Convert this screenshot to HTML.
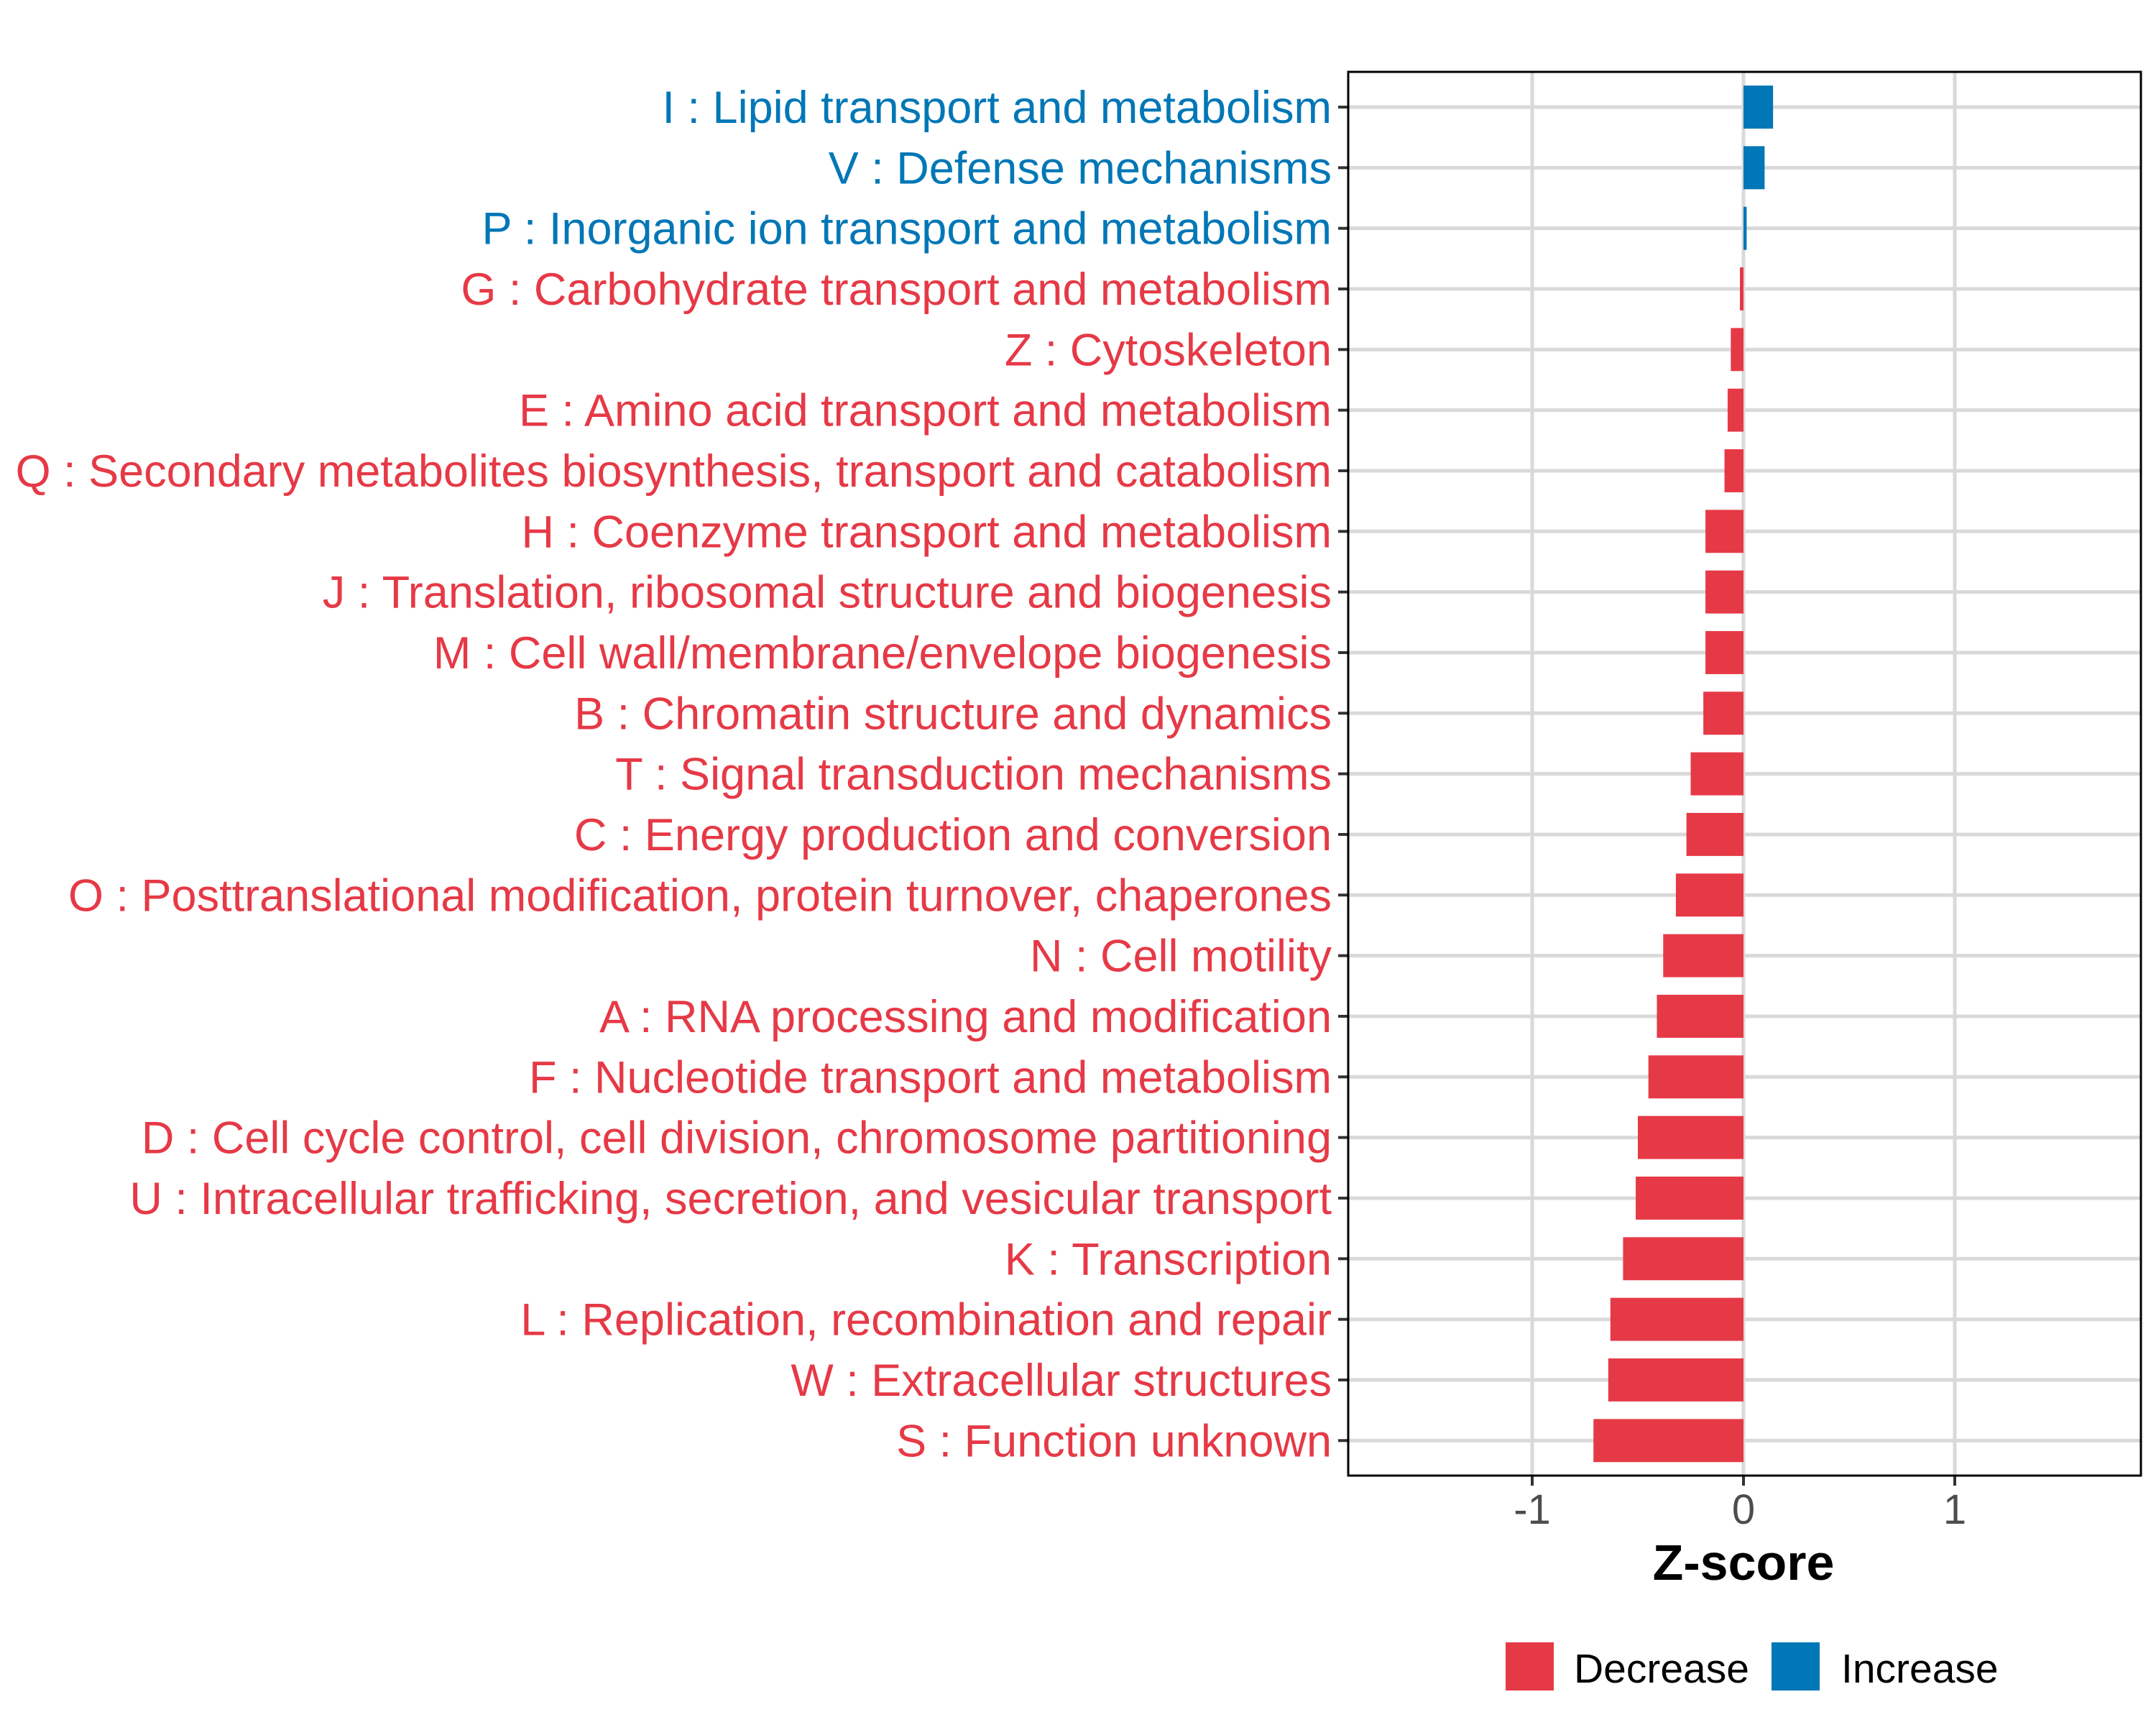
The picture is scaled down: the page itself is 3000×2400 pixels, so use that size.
<!DOCTYPE html>
<html><head><meta charset="utf-8"><style>
html,body{margin:0;padding:0;background:#fff;}
svg{display:block;font-family:"Liberation Sans",Arial,sans-serif;}
</style></head><body>
<svg id="chart" width="3000" height="2400" viewBox="0 0 3000 2400" xmlns="http://www.w3.org/2000/svg">
<rect x="0" y="0" width="3000" height="2400" fill="#fff"/>
<g id="grid"></g><g id="bars"></g><g id="ylabels"></g><g id="xaxis"></g>
<rect x="1876" y="100" width="1103" height="1953" fill="none" stroke="#000" stroke-width="3"/>
<text x="2426" y="2198" text-anchor="middle" font-size="70" font-weight="bold" fill="#000">Z-score</text>
<g>
<rect x="2095" y="2285" width="67" height="67" fill="#E63946"/>
<text x="2190" y="2341" font-size="57" fill="#000">Decrease</text>
<rect x="2465" y="2285" width="67" height="67" fill="#0077B6"/>
<text x="2562" y="2341" font-size="57" fill="#000">Increase</text>
</g>
</svg>
<script>
const categories = ["I : Lipid transport and metabolism","V : Defense mechanisms","P : Inorganic ion transport and metabolism","G : Carbohydrate transport and metabolism","Z : Cytoskeleton","E : Amino acid transport and metabolism","Q : Secondary metabolites biosynthesis, transport and catabolism","H : Coenzyme transport and metabolism","J : Translation, ribosomal structure and biogenesis","M : Cell wall/membrane/envelope biogenesis","B : Chromatin structure and dynamics","T : Signal transduction mechanisms","C : Energy production and conversion","O : Posttranslational modification, protein turnover, chaperones","N : Cell motility","A : RNA processing and modification","F : Nucleotide transport and metabolism","D : Cell cycle control, cell division, chromosome partitioning","U : Intracellular trafficking, secretion, and vesicular transport","K : Transcription","L : Replication, recombination and repair","W : Extracellular structures","S : Function unknown"];
const zscores = [0.14,0.10,0.015,-0.017,-0.06,-0.075,-0.09,-0.18,-0.18,-0.18,-0.19,-0.25,-0.27,-0.32,-0.38,-0.41,-0.45,-0.50,-0.51,-0.57,-0.63,-0.64,-0.71];
const xTicks = [-1,0,1];
const xTickLabels = ["-1","0","1"];

const NS="http://www.w3.org/2000/svg";
const X0=2426, UNIT=294, Y0=149, STEP=84.33, BARH=0.71*84.33;
const PL=1876, PR=2979, PT=100, PB=2053;
function xs(v){return X0+v*UNIT;}
function ys(i){return Y0+i*STEP;}
function mk(tag,attrs,parent){const e=document.createElementNS(NS,tag);for(const k in attrs)e.setAttribute(k,attrs[k]);parent.appendChild(e);return e;}
const grid=document.getElementById('grid'),bars=document.getElementById('bars'),yl=document.getElementById('ylabels'),xa=document.getElementById('xaxis');
xTicks.forEach((t,i)=>{
  const g=mk('line',{x1:xs(t),x2:xs(t),y1:PT,y2:PB,stroke:'#d9d9d9','stroke-width':5},grid);
  
  
  const tk=mk('line',{x1:xs(t),x2:xs(t),y1:PB,y2:PB+14,stroke:'#333','stroke-width':4},xa);
  
  
  const tl=mk('text',{x:xs(t),y:PB+67,'text-anchor':'middle','font-size':58,fill:'#4d4d4d'},xa);
  tl.textContent=xTickLabels[i];
  
  
});
categories.forEach((c,i)=>{
  const y=ys(i);
  const gl=mk('line',{x1:PL,x2:PR,y1:y,y2:y,stroke:'#d9d9d9','stroke-width':5},grid);
  
  
  const v=zscores[i];
  const col=v>=0?'#0077B6':'#E63946';
  const x1=Math.min(xs(0),xs(v)), w=Math.abs(xs(v)-xs(0));
  const b=mk('rect',{x:x1,y:y-BARH/2,width:w,height:BARH,fill:col},bars);
  
  
  const tk=mk('line',{x1:PL-14,x2:PL,y1:y,y2:y,stroke:'#333','stroke-width':4},yl);
  
  
  const t=mk('text',{x:1853,y:y+22,'text-anchor':'end','font-size':63,fill:col},yl);
  t.textContent=c;
  
  
});
</script>
</body></html>
